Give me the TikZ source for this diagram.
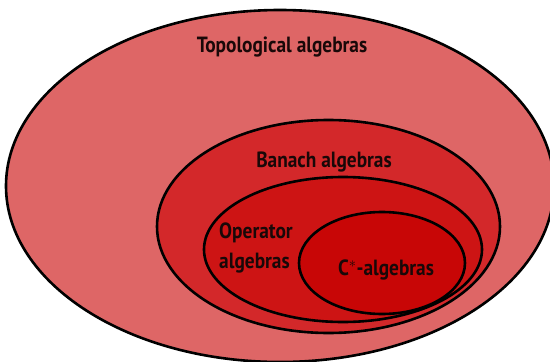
\documentclass[tikz,border=0pt]{standalone}
\usepackage{fontspec}
\newfontfamily\handfont[FakeStretch=0.88]{PT Sans}
\usetikzlibrary{shapes.geometric}
\definecolor{topoc}{RGB}{222,102,102}
\definecolor{banachc}{RGB}{211,40,42}
\definecolor{operc}{RGB}{205,20,20}
\definecolor{cstarc}{RGB}{200,6,6}
\definecolor{inkc}{RGB}{25,8,8}
\tikzset{
  setbox/.style={ellipse, draw=black, line width=2.6pt, inner sep=0pt},
  lab/.style={text=inkc, font=\handfont\bfseries\fontsize{22}{30}\selectfont, align=center, inner sep=0pt}
}
\begin{document}
\begin{tikzpicture}[x=1pt,y=-1pt]
\useasboundingbox (0,0) rectangle (550,362);
\clip (0,0) rectangle (550,362);
\fill[white] (0,0) rectangle (550,362);
\node[setbox, fill=topoc, minimum width=548pt, minimum height=352pt] (topo) at (280,186) {};
\node[setbox, fill=banachc, minimum width=343pt, minimum height=213pt] (banach) at (328.5,226.5) {};
\node[setbox, fill=operc, minimum width=278pt, minimum height=145pt] (oper) at (343,249.5) {};
\node[setbox, fill=cstarc, minimum width=166pt, minimum height=102pt] (cstar) at (382,263) {};
\node[lab] (topolab) at (282,47) {Topological algebras};
\node[lab] (banachlab) at (324,162) {Banach algebras};
\node[lab, align=left] (operlab) at (256,248) {Operator\\algebras};
\node[lab] (cstarlab) at (386,270) {C$^{*}$-algebras};
\end{tikzpicture}
\end{document}
